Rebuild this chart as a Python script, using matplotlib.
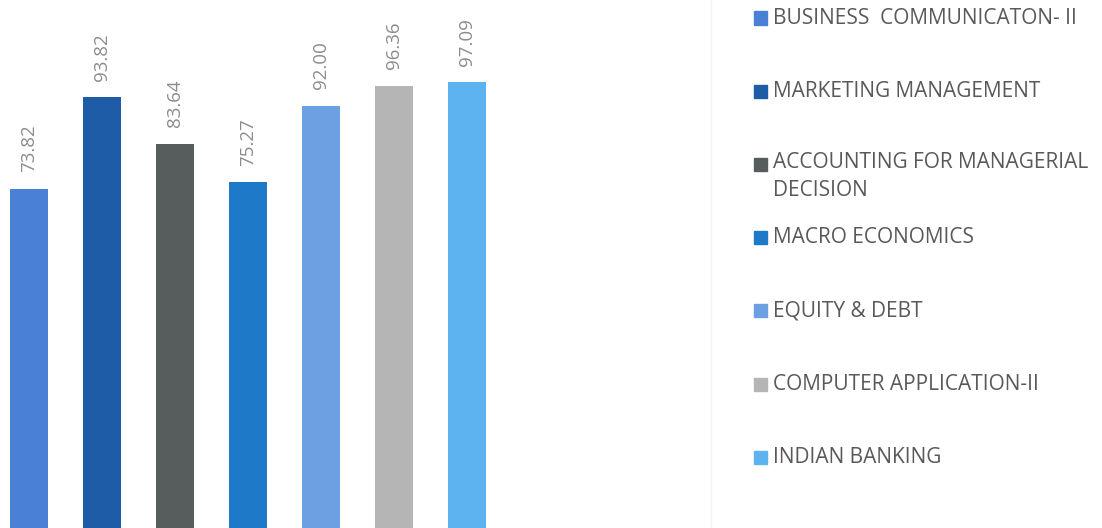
import matplotlib
matplotlib.use("Agg")
import matplotlib.pyplot as plt
from matplotlib.patches import Rectangle
from matplotlib.lines import Line2D

categories = ["BUSINESS  COMMUNICATON- II", "MARKETING MANAGEMENT",
              "ACCOUNTING FOR MANAGERIAL DECISION", "MACRO ECONOMICS",
              "EQUITY & DEBT", "COMPUTER APPLICATION-II", "INDIAN BANKING"]
values = [73.82, 93.82, 83.64, 75.27, 92.00, 96.36, 97.09]
colors = ["#4a80d6", "#1e5ca8", "#575c5c", "#1f79c9", "#6ba0e3", "#b5b5b5", "#5cb3f0"]
legend_lines = ["BUSINESS  COMMUNICATON- II", "MARKETING MANAGEMENT",
                "ACCOUNTING FOR MANAGERIAL\nDECISION", "MACRO ECONOMICS",
                "EQUITY & DEBT", "COMPUTER APPLICATION-II", "INDIAN BANKING"]

plt.rcParams['font.family'] = ['Open Sans', 'DejaVu Sans']

W, H = 1102, 528
fig = plt.figure(figsize=(W / 100, H / 100), dpi=100)
fig.patch.set_facecolor("white")

ax_w = 700
ax = fig.add_axes([0, 0, ax_w / W, 1])
x = list(range(len(values)))
ax.bar(x, values, width=0.52, color=colors)
ax.set_xlim(-29 / 73, (ax_w - 29) / 73)
ax.set_ylim(0, 115.0)
for xi, v in zip(x, values):
    ax.annotate(f"{v:.2f}", (xi, v), xytext=(0, 12), textcoords="offset points",
                rotation=90, ha="center", va="bottom", fontsize=13.5, color="#8c8c8c")
ax.axis("off")

# faint separator
fig.add_artist(Line2D([711 / W, 711 / W], [0, 1], color="#f2f2f2", lw=1))

# legend
for i, (lab, c) in enumerate(zip(legend_lines, colors)):
    yc = 18 + 73.2 * i
    yf = 1 - yc / H
    fig.add_artist(Rectangle((754 / W, yf - 6.5 / H), 13 / W, 13 / H,
                             color=c, transform=fig.transFigure))
    if "\n" in lab:
        fig.text(773 / W, 1 - (yc - 12) / H, lab, ha="left", va="top",
                 fontsize=15, color="#595959", linespacing=1.4)
    else:
        fig.text(773 / W, yf, lab, ha="left", va="center",
                 fontsize=15, color="#595959")

fig.savefig("out.png", dpi=100, facecolor="white")
